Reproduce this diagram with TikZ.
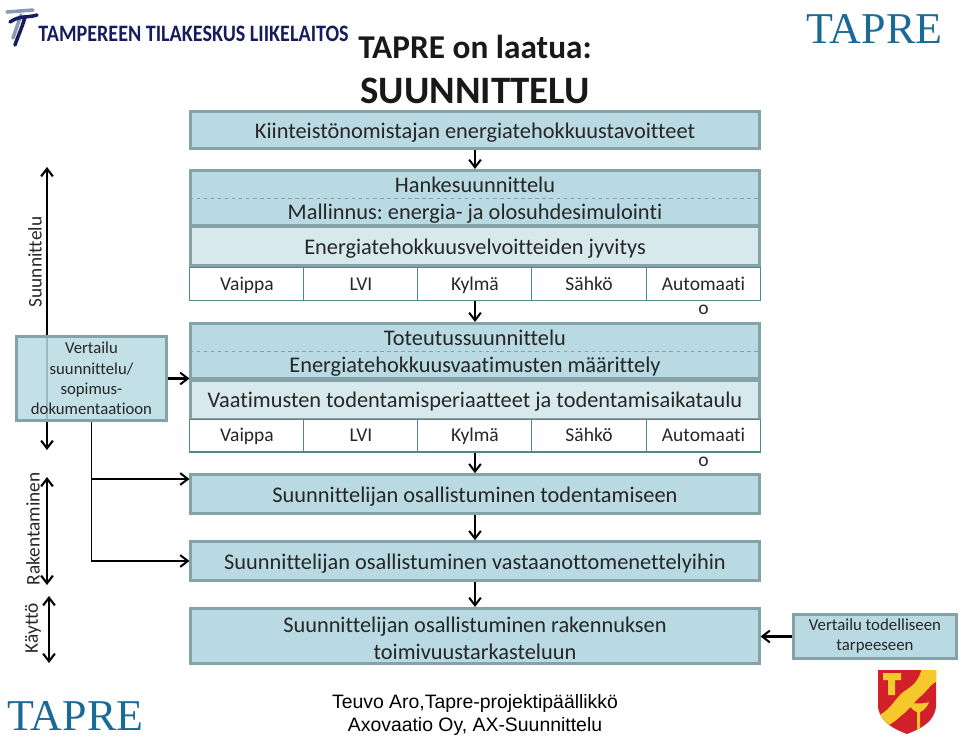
\documentclass[tikz,border=0pt]{standalone}
\usepackage{fontspec}
\setmainfont{Carlito}[Ligatures=NoCommon]
\newfontfamily\serifname{Liberation Serif}
\newfontfamily\arialname{Liberation Sans}
\usetikzlibrary{arrows.meta}
\definecolor{boxfill}{HTML}{B9DAE2}
\definecolor{boxlight}{HTML}{D8E9EE}
\definecolor{boxline}{HTML}{84A3A9}
\definecolor{cellline}{HTML}{4F8A8B}
\definecolor{tapreblue}{HTML}{1B6A96}
\definecolor{navyname}{HTML}{171C5C}
\definecolor{greyname}{HTML}{8A9AB5}
\definecolor{crestred}{HTML}{D2202A}
\definecolor{crestyellow}{HTML}{F5C92B}
\newcommand{\topstrut}{\rule{0pt}{17pt}}
\tikzset{
  box/.style={draw=boxline,line width=2.4pt,fill=boxfill,inner sep=0pt,align=center,
    font=\fontsize{19}{23.6}\selectfont\frenchspacing,text=black!85},
  lightbox/.style={box,fill=boxlight},
  cell/.style={draw=cellline,line width=0.9pt,fill=white,inner sep=0pt,
    minimum width=97pt,minimum height=28pt},
  celltext/.style={font=\fontsize{16.6}{19}\selectfont,text=black!85,inner sep=0pt,
    text height=14pt,text depth=3pt},
  arr/.style={-{Straight Barb[length=6.5pt,width=10pt,line width=1.7pt]},line width=1.8pt},
  twoarr/.style={{Straight Barb[length=6.5pt,width=10pt,line width=1.8pt]}-{Straight Barb[length=6.5pt,width=10pt,line width=1.8pt]},line width=2pt},
  sidelabel/.style={rotate=90,font=\fontsize{16.4}{18}\selectfont,text=black!85,inner sep=0pt},
}
\begin{document}
\begin{tikzpicture}
        [x=0.85pt,y=-0.85pt]
        \useasboundingbox (0,0) rectangle (960,739);

        % side arrows go under the boxes
        \coordinate (suuntop) at (47,167);
        \coordinate (suunend) at (47,450);
        \coordinate (rakA) at (47,477);
        \coordinate (rakB) at (47,585);
        \coordinate (kayA) at (49,596);
        \coordinate (kayB) at (49,663);
        \draw[twoarr] (suunend) -- (suuntop);
        \draw[twoarr] (rakA) -- (rakB);
        \draw[twoarr] (kayA) -- (kayB);

        % main column
        \node[box,minimum width=483pt,minimum height=32pt] (goal) at (475,130) {\topstrut Kiinteistönomistajan energiatehokkuustavoitteet};
        \node[box,minimum width=483pt,minimum height=47pt] (hanke) at (475,198) {\topstrut Hankesuunnittelu\\Mallinnus: energia- ja olosuhdesimulointi};
        \node[lightbox,minimum width=483pt,minimum height=33pt] (jyvitys) at (475,246) {\topstrut Energiatehokkuusvelvoitteiden jyvitys};
        \node[box,minimum width=483pt,minimum height=47pt] (toteutus) at (475,351) {\topstrut Toteutussuunnittelu\\Energiatehokkuusvaatimusten määrittely};
        \node[lightbox,minimum width=483pt,minimum height=33pt] (vaatimus) at (475,399.5) {\topstrut Vaatimusten todentamisperiaatteet ja todentamisaikataulu};
        \node[box,minimum width=483pt,minimum height=33pt] (todent) at (475,494) {\topstrut Suunnittelijan osallistuminen todentamiseen};
        \node[box,minimum width=483pt,minimum height=33pt] (vastaan) at (475,561) {\topstrut Suunnittelijan osallistuminen vastaanottomenettelyihin};
        \node[box,minimum width=483pt,minimum height=47pt] (toimiv) at (475,636) {\topstrut Suunnittelijan osallistuminen rakennuksen\\toimivuustarkasteluun};

        \draw[dashed,draw=boxline,line width=0.8pt] (hanke.west) -- (hanke.east);
        \draw[dashed,draw=boxline,line width=0.8pt] (toteutus.west) -- (toteutus.east);

        % cell rows
        \foreach \y/\r in {284/a,435.5/b}
        {
          \foreach \x/\n/\t in {247/1/Vaippa,361/2/LVI,475/3/Kylmä,589/4/Sähkö}
          {\node[cell] (cell\r\n) at (\x,\y) {};
           \node[celltext] at (\x,\y) {\t};}
          \node[cell] (cell\r5) at (703.5,\y) {};
          \node[celltext] at (703.5,\y) {Automaati};
          \node[celltext] at (703.5,\y+24.5) {o};
        }

        % left and right boxes
        \node[box,fill opacity=0.85,text opacity=1,minimum width=127pt,minimum height=72pt,
          font=\fontsize{14.2}{17.2}\selectfont] (vertailu) at (91.5,378.5) {Vertailu\\suunnittelu/\\sopimus-\\dokumentaatioon};
        \node[box,minimum width=139pt,minimum height=38pt,font=\fontsize{14.3}{17}\selectfont] (tarve) at (875,636.5) {Vertailu todelliseen\\tarpeeseen};

        % side labels
        \node[sidelabel] (lblsuun) at (35,262) {Suunnittelu};
        \node[sidelabel] (lblrak) at (33,529) {Rakentaminen};
        \node[sidelabel] (lblkay) at (33,628) {Käyttö};

        % connectors
        \coordinate (branchA) at (91,479);
        \draw[arr] (goal.south) -- (hanke.north);
        \draw[arr] (cella3.south) -- (toteutus.north);
        \draw[arr] (cellb3.south) -- (todent.north);
        \draw[arr] (todent.south) -- (vastaan.north);
        \draw[arr] (vastaan.south) -- (toimiv.north);
        \draw[arr] (vertailu.east) -- (vertailu.east -| toteutus.west);
        \draw[arr] (tarve.west) -- (tarve.west -| toimiv.east);
        \draw[arr,line width=1.5pt] (vertailu.south) |- (vastaan.west);
        \draw[arr,line width=1.5pt] (branchA) -- (branchA -| todent.west);

        % titles
        \node[font=\fontsize{28.3}{30}\selectfont\bfseries,text=black!90] (title) at (475,47) {TAPRE on laatua:};
        \node[font=\fontsize{33}{34}\selectfont\bfseries,text=black!90] (subtitle) at (475,91) {SUUNNITTELU};

        % logos
        \node[font=\serifname\fontsize{37.4}{40}\selectfont,text=tapreblue,inner sep=0pt] (taprea) at (874.5,29) {TAPRE};
        \node[font=\serifname\fontsize{37.4}{40}\selectfont,text=tapreblue,inner sep=0pt] (tapreb) at (75.5,716) {TAPRE};
        \node[font=\fontsize{20}{22}\selectfont\bfseries,text=navyname,inner sep=0pt,xscale=0.855] (tilakeskus) at (193.5,33.5) {TAMPEREEN TILAKESKUS LIIKELAITOS};
        \draw[line width=3pt,draw=greyname,line cap=round] (7,12) -- (33,10) (21,15) -- (13,38);
        \draw[line width=3pt,draw=navyname,line cap=round] (10,22) .. controls (20,15) and (28,18) .. (37,15) (25,17) .. controls (22,28) and (18,36) .. (15,45);

        % crest
        \begin{scope}
          \clip (878,670) -- (936,670) -- (936,706) .. controls (935,722) and (920,729) .. (907,734) .. controls (894,729) and (879,722) .. (878,706) -- cycle;
          \fill[crestred] (870,665) rectangle (940,740);
          \fill[crestyellow] (870,718) .. controls (885,716) and (892,704) .. (899,696) .. controls (905,689) and (912,688) .. (917,680) .. controls (920,675) and (921,672) .. (923,665) -- (940,665) -- (940,680) .. controls (931,683) and (928,690) .. (921,696) .. controls (914,702) and (910,709) .. (902,715) .. controls (895,721) and (889,728) .. (870,730) -- cycle;
        \end{scope}
        \fill[crestyellow] (883,673) -- (901,673) -- (901,680) -- (895,680) -- (895,695) -- (888,695) -- (888,680) -- (883,680) -- cycle;
        \fill[crestyellow] (908,702) .. controls (913,704) and (923,704) .. (929,702) .. controls (927,708) and (923,711) .. (920,712) -- (920,729) -- (917,729) -- (917,712) .. controls (914,711) and (910,708) .. (908,702) -- cycle;

        % footer
        \node[font=\arialname\fontsize{16.5}{19.6}\selectfont,align=center,inner sep=0pt] (footer) at (475,715) {Teuvo Aro,Tapre-projektipäällikkö\\Axovaatio Oy, AX-Suunnittelu};
\end{tikzpicture}
\end{document}
